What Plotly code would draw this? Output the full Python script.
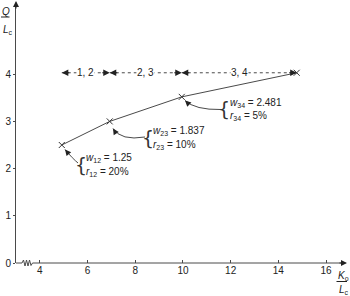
import plotly.graph_objects as go

# ---- data ----
K_ratio = [4.92, 6.93, 9.95, 14.77]      # K_o / L_c
Q_ratio = [2.50, 3.00, 3.52, 4.03]       # Q / L_c
pair_labels = ["1, 2", "2, 3", "3, 4"]
sub_idx = ["12", "23", "34"]
w_values = ["1.25", "1.837", "2.481"]
r_values = ["20%", "10%", "5%"]
x_ticks = [4, 6, 8, 10, 12, 14, 16]
y_ticks = [0, 1, 2, 3, 4]

# ---- geometry ----
W, H = 350, 296
ML, MR, MT, MB = 16, 5, 3, 33
PW = W - ML - MR
PH = H - MT - MB
X0 = 3.0
XPU = 23.85
YPU = 47.2
X1 = X0 + PW / XPU
Y1 = PH / YPU


def dx(px):
    return X0 + (px - ML) / XPU


def dy(py):
    return (H - MB - py) / YPU


def pxp(px):
    return (px - ML) / PW


def pyp(py):
    return (H - MB - py) / PH


FONT = "Liberation Sans, Arial, Helvetica, sans-serif"
LC = "#4a4a4a"
TC = "#222222"

fig = go.Figure()

# main curve
fig.add_trace(go.Scatter(
    x=K_ratio, y=Q_ratio, mode="lines+markers",
    line=dict(color=LC, width=1),
    marker=dict(symbol="x-thin", size=6, line=dict(color="#333", width=1), color="#333"),
    hoverinfo="skip", showlegend=False, cliponaxis=False,
))

# dotted dimension line
y_dim = Q_ratio[-1]
fig.add_trace(go.Scatter(
    x=[K_ratio[0], K_ratio[-1]], y=[y_dim, y_dim], mode="lines",
    line=dict(color=LC, width=1, dash="dot"),
    hoverinfo="skip", showlegend=False,
))

ann = []
shapes = []

for i, lab in enumerate(pair_labels):
    a, b = K_ratio[i], K_ratio[i + 1]
    for xt, off in ((a, 9), (b, -9)):
        ann.append(dict(x=xt, y=y_dim, xref="x", yref="y", text="", showarrow=True,
                        ax=off, ay=0, arrowhead=2, arrowsize=1.3, arrowwidth=1,
                        arrowcolor="#222", standoff=0))
    ann.append(dict(x=(a + b) / 2, y=y_dim, xref="x", yref="y", text=lab, showarrow=False,
                    bgcolor="white", borderpad=0,
                    font=dict(family=FONT, size=10, color=TC)))

# curved pointer arrows (start, control, tip) and text blocks, in pixel positions
pointers = [
    ((78, 163), (73, 159), (65, 149.5)),
    ((145, 137), (121, 141), (113, 128.5)),
    ((221, 109.5), (195, 110), (185, 100.5)),
]
brace_pos = [(80.5, 165), (147.5, 138), (224, 109)]
text_pos = [(84, 158, 172), (151, 131, 145), (228, 102.5, 115.5)]

for i in range(3):
    (sx, sy), (cx, cy), (tx, ty) = pointers[i]
    shapes.append(dict(type="path", xref="x", yref="y",
                       path=f"M {dx(sx)},{dy(sy)} Q {dx(cx)},{dy(cy)} {dx(tx)},{dy(ty)}",
                       line=dict(color=LC, width=1)))
    vx, vy = cx - tx, cy - ty
    n = (vx * vx + vy * vy) ** 0.5
    ann.append(dict(x=dx(tx), y=dy(ty), xref="x", yref="y", text="", showarrow=True,
                    ax=vx / n * 7, ay=vy / n * 7, arrowhead=2, arrowsize=1.2,
                    arrowwidth=1, arrowcolor="#222", standoff=0))
    bx, by = brace_pos[i]
    ann.append(dict(x=dx(bx), y=dy(by), xref="x", yref="y", text="{", showarrow=False,
                    xanchor="center", yanchor="middle",
                    font=dict(family="DejaVu Sans, sans-serif", size=19, color="#333")))
    lx, wy, ry = text_pos[i]
    ann.append(dict(x=dx(lx), y=dy(wy), xref="x", yref="y",
                    text=f"<i>w</i><sub>{sub_idx[i]}</sub> = {w_values[i]}",
                    showarrow=False, xanchor="left", yanchor="middle",
                    font=dict(family=FONT, size=10, color=TC)))
    ann.append(dict(x=dx(lx), y=dy(ry), xref="x", yref="y",
                    text=f"<i>r</i><sub>{sub_idx[i]}</sub> = {r_values[i]}",
                    showarrow=False, xanchor="left", yanchor="middle",
                    font=dict(family=FONT, size=10, color=TC)))

# x axis line with break (paper coords)
zz = [(16, 263), (22, 263), (23.5, 260), (25, 266), (26.5, 260), (28, 266),
      (29.5, 260), (31, 265.5), (32.5, 263), (345, 263)]
path = "M " + " L ".join(f"{pxp(px)},{pyp(py)}" for px, py in zz)
shapes.append(dict(type="path", xref="paper", yref="paper", path=path,
                   line=dict(color=LC, width=1)))

# axis arrowheads
ann.append(dict(x=pxp(347), y=pyp(263), xref="paper", yref="paper", text="", showarrow=True,
                ax=-9, ay=0, arrowhead=2, arrowsize=1.2, arrowwidth=1, arrowcolor="#222",
                standoff=0))
ann.append(dict(x=pxp(16), y=pyp(1), xref="paper", yref="paper", text="", showarrow=True,
                ax=0, ay=9, arrowhead=2, arrowsize=1.2, arrowwidth=1, arrowcolor="#222",
                standoff=0))

# axis titles as fractions (anchored at left edge)
ann += [
    dict(x=pxp(1), y=pyp(11), xref="paper", yref="paper", text="<i>Q</i>", showarrow=False,
         xanchor="left", yanchor="middle", borderpad=0,
         font=dict(family=FONT, size=10, color=TC)),
    dict(x=pxp(1.5), y=pyp(23), xref="paper", yref="paper", text="<i>L</i><sub>c</sub>",
         showarrow=False, xanchor="left", yanchor="top", borderpad=0,
         font=dict(family=FONT, size=10, color=TC)),
    dict(x=pxp(337), y=pyp(269), xref="paper", yref="paper", text="<i>K</i><sub>o</sub>",
         showarrow=False, xanchor="left", yanchor="top", borderpad=0,
         font=dict(family=FONT, size=10, color=TC)),
    dict(x=pxp(337.5), y=pyp(283), xref="paper", yref="paper", text="<i>L</i><sub>c</sub>",
         showarrow=False, xanchor="left", yanchor="top", borderpad=0,
         font=dict(family=FONT, size=10, color=TC)),
]
shapes += [
    dict(type="line", xref="paper", yref="paper", x0=pxp(1), x1=pxp(9.5), y0=pyp(17), y1=pyp(17),
         line=dict(color=TC, width=1)),
    dict(type="line", xref="paper", yref="paper", x0=pxp(336.5), x1=pxp(347), y0=pyp(281.5),
         y1=pyp(281.5), line=dict(color=TC, width=1)),
]

fig.update_layout(
    width=W, height=H,
    margin=dict(l=ML, r=MR, t=MT, b=MB, pad=0, autoexpand=False),
    paper_bgcolor="white", plot_bgcolor="white",
    showlegend=False,
    annotations=ann, shapes=shapes,
    xaxis=dict(range=[X0, X1], tickvals=x_ticks, ticktext=[str(v) for v in x_ticks],
               showgrid=False, zeroline=False, showline=False, automargin=False,
               ticks="inside", ticklen=3, tickcolor=LC, tickwidth=1,
               tickfont=dict(family=FONT, size=10, color=TC)),
    yaxis=dict(range=[0, Y1], tickvals=y_ticks, ticktext=[str(v) for v in y_ticks],
               showgrid=False, zeroline=False, showline=True, linecolor=LC, linewidth=1,
               automargin=False,
               ticks="outside", ticklen=2, tickcolor=LC, tickwidth=1,
               tickfont=dict(family=FONT, size=10, color=TC)),
)

fig.write_html("out.html", config={"displayModeBar": False},
               post_script="document.body.style.margin='0px';document.body.style.overflow='hidden';")
